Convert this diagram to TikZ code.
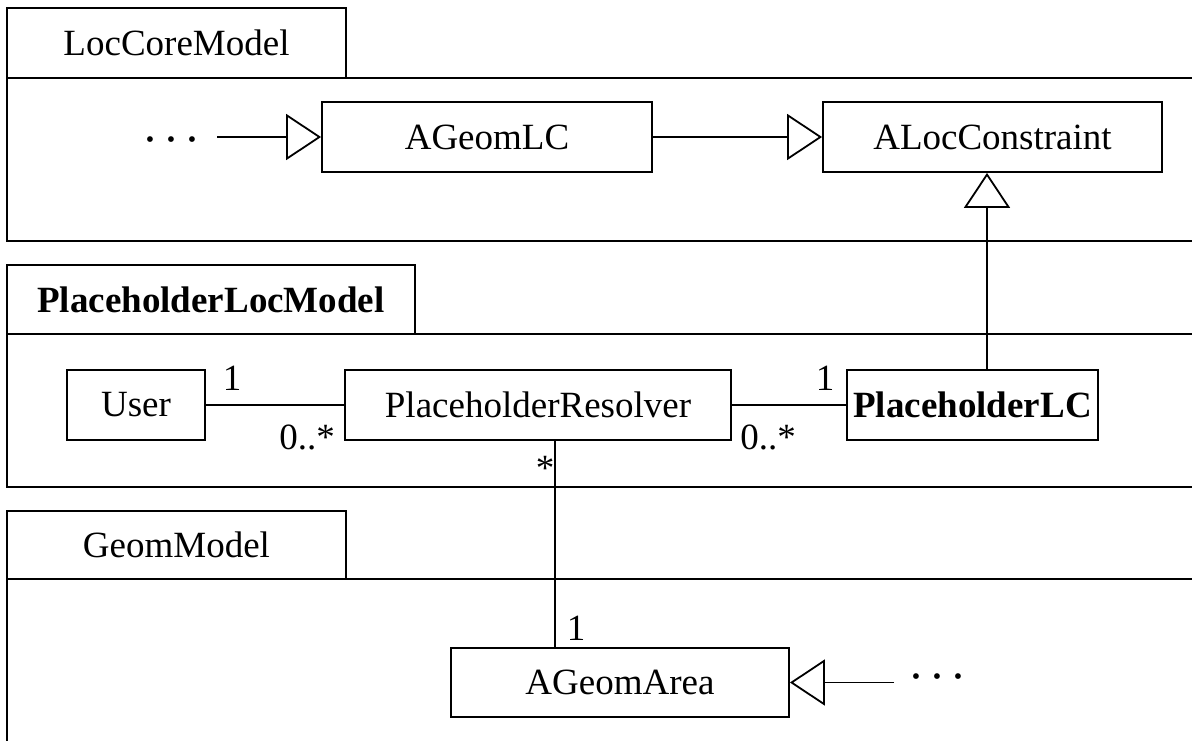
\documentclass[tikz,border=0pt]{standalone}
\usepackage{fontspec}
\setmainfont{Liberation Serif}
\usetikzlibrary{arrows.meta}
% three spaced dots standing for further classes
\newcommand{\moredots}{{\fontsize{12}{12}\selectfont\textbullet\hspace{6.3pt}\textbullet\hspace{6.3pt}\textbullet}}
\begin{document}
\begin{tikzpicture}[x=0.5pt,y=-0.5pt,
  font=\fontsize{18.5}{22}\selectfont,
  line width=0.9pt,
  classbox/.style={draw,inner sep=0pt,minimum height=35pt,align=center},
  pkgtab/.style={draw,inner sep=0pt,align=center},
  pkgline/.style={line width=1.1pt},
  gen/.style={-{Triangle[open,length=17.5pt,width=23pt]}},
  mult/.style={inner sep=0pt}]
\useasboundingbox (0,0) rectangle (1192,740);
\clip (0,0) rectangle (1192,740);

% ---- package LocCoreModel
\node[pkgtab,pkgline,minimum width=169.5pt,minimum height=35pt] (pkgCore) at (176.5,43) {LocCoreModel};
\draw[pkgline] (1200,78) -- (7,78) -- (7,241) -- (1200,241);

\node[classbox,minimum width=165pt] (ageomlc) at (487,137) {AGeomLC};
\node[classbox,minimum width=169.5pt] (aloc) at (992.5,137) {ALocConstraint};
\node[inner sep=0pt] (dotsA) at (171,142) {\moredots};
\coordinate (startA) at (217,137);
\draw[gen] (startA) -- (ageomlc.west);
\draw[gen] (ageomlc.east) -- (aloc.west);

% ---- package PlaceholderLocModel
\node[pkgtab,pkgline,minimum width=204pt,minimum height=34.5pt] (pkgPh) at (211,299.5) {\textbf{PlaceholderLocModel}};
\draw[pkgline] (1200,334) -- (7,334) -- (7,487) -- (1200,487);

\node[classbox,minimum width=69pt] (user) at (136,405) {User};
\node[classbox,minimum width=193pt] (resolver) at (538,405) {PlaceholderResolver};
\node[classbox,minimum width=125.5pt] (phlc) at (972.5,405) {\textbf{PlaceholderLC}};

\draw (user.east) -- (resolver.west);
\draw (resolver.east) -- (phlc.west);
\draw[gen] ([xshift=7.25pt]phlc.north) -- ([xshift=7.25pt]phlc.north |- aloc.south);

\node[mult] (mUser) at (232,378) {1};
\node[mult] (mResL) at (307,437) {0..*};
\node[mult] (mResR) at (768,437) {0..*};
\node[mult] (mLC) at (825,378) {1};

% ---- package GeomModel
\node[pkgtab,pkgline,minimum width=169.5pt,minimum height=34pt] (pkgGeom) at (176.5,545) {GeomModel};
\draw[pkgline] (1200,579) -- (7,579) -- (7,760);

\node[classbox,minimum width=169pt,minimum height=34.5pt] (area) at (620,682.5) {AGeomArea};
\node[inner sep=0pt] (dotsB) at (937,679) {\moredots};
\coordinate (startB) at (894,682.5);
\draw[gen] (startB) -- (area.east);

\draw ([xshift=8.5pt]resolver.south) -- ([xshift=8.5pt]resolver.south |- area.north);
\node[mult] (mStar) at (545,468) {*};
\node[mult] (mArea) at (576,628) {1};
\end{tikzpicture}
\end{document}
